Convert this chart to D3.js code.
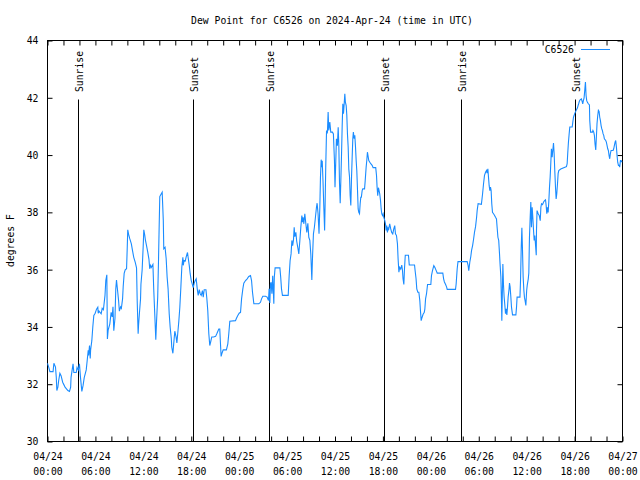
<!DOCTYPE html>
<html>
<head>
<meta charset="utf-8">
<script src="https://cdn.jsdelivr.net/npm/d3@7"></script>
<style>
  html, body { margin: 0; padding: 0; background: #fff; }
  svg { display: block; }
  text { font-family: "DejaVu Sans Mono", "Liberation Mono", monospace; font-size: 9.75px; fill: #000; }
</style>
</head>
<body>
<svg id="chart" width="640" height="480"></svg>
<script>
const title = "Dew Point for C6526 on 2024-Apr-24 (time in UTC)";
const yLabel = "degrees F";
const seriesName = "C6526";
const startUTC = Date.UTC(2024, 3, 24, 0, 0);
const endUTC = Date.UTC(2024, 3, 27, 0, 0);
const yDomain = [30, 44];
const yTickValues = [30, 32, 34, 36, 38, 40, 42, 44];

// sun events: hours after start
const sunEventHours = [3.92, 18.22, 27.84, 42.24, 51.87, 66.16];
const sunEventNames = ["Sunrise", "Sunset", "Sunrise", "Sunset", "Sunrise", "Sunset"];

// hours after 2024-04-24 00:00 UTC
const hours = [
0,0.15,0.3,0.7,0.8,1.0,1.1,1.17,1.3,1.4,1.55,1.7,1.9,2.2,2.55,2.75,2.9,2.95,3.2,3.3,3.6,3.7,3.85,4.0,4.13,4.3,4.45,4.6,4.85,4.97,
5.1,5.15,5.26,5.35,5.4,5.55,5.67,5.8,5.97,6.14,6.3,6.35,6.45,6.72,6.85,7.0,7.2,7.3,7.43,7.5,7.6,7.8,7.97,8.1,8.2,8.3,8.45,8.55,8.64,8.8,
8.9,9.0,9.15,9.25,9.4,9.48,9.6,9.73,9.9,9.98,10.05,10.15,10.3,10.5,10.64,10.8,10.98,11.15,11.23,11.35,11.4,11.52,11.65,11.7,11.85,11.98,12.06,
12.18,12.25,12.4,12.56,12.7,12.8,12.9,13.0,13.2,13.3,13.48,13.56,13.65,13.8,13.9,13.98,14.06,14.2,14.36,14.5,14.56,14.72,14.86,14.98,
15.1,15.24,15.36,15.5,15.56,15.7,15.8,15.94,16.1,16.2,16.35,16.45,16.57,16.7,16.82,16.95,17.0,17.1,17.25,17.35,17.53,17.6,17.75,17.87,
18.0,18.12,18.25,18.37,18.5,18.62,18.75,18.87,19.0,19.12,19.25,19.4,19.5,19.62,19.84,19.95,20.07,20.2,20.32,20.45,20.57,20.8,21.05,21.2,
21.45,21.57,21.66,21.74,21.87,22.0,22.4,22.58,22.7,22.83,23.54,23.66,23.83,24.0,
24.17,24.3,24.46,24.58,24.8,25.0,25.2,25.42,25.55,25.67,25.84,26.46,26.67,26.8,26.96,27.3,27.5,27.67,27.75,27.84,27.92,28.0,28.1,28.2,
28.34,28.4,28.5,29.1,29.2,29.3,29.42,30.14,30.26,30.38,30.5,30.6,30.7,30.8,30.89,30.97,31.1,31.2,31.34,31.47,31.6,31.72,31.85,31.92,
32.0,32.1,32.22,32.35,32.47,32.6,32.72,32.85,32.97,33.1,33.17,33.3,33.42,33.55,33.68,33.76,33.88,34.0,34.1,34.18,34.27,34.33,34.4,34.5,
34.6,34.7,34.77,34.84,34.94,35.05,35.14,35.22,35.35,35.47,35.68,35.8,35.93,36.0,
36.18,36.3,36.4,36.48,36.56,36.65,36.73,36.81,36.9,36.98,37.06,37.15,37.23,37.3,37.4,37.48,37.56,37.65,37.73,37.82,37.9,37.98,38.07,
38.15,38.23,38.3,38.4,38.48,38.57,38.65,38.73,38.82,38.9,38.98,39.07,39.15,39.23,39.3,39.4,39.48,39.7,39.78,39.9,39.98,40.06,40.15,
40.23,40.36,40.48,40.65,40.77,41.1,41.2,41.27,41.35,41.44,41.52,41.6,41.7,41.78,41.86,41.95,42.03,42.1,42.23,42.32,42.4,42.48,42.56,
42.65,42.73,42.85,42.98,43.1,43.23,43.36,43.48,43.57,43.7,43.82,43.9,44.0,44.1,44.23,44.36,44.45,44.52,44.62,44.7,44.8,45.2,45.3,45.96,
46.03,46.15,46.24,46.37,46.5,46.62,46.7,46.79,46.9,47.04,47.17,47.25,47.34,47.46,47.59,48.0,
48.08,48.2,48.37,48.5,48.62,48.8,49.5,49.6,49.7,49.85,49.98,50.05,51.09,51.17,51.3,51.4,52.55,52.67,52.75,52.88,53.0,53.1,53.23,53.36,
53.47,53.6,53.73,53.8,53.92,54.33,54.48,54.6,54.72,54.85,54.97,55.05,55.14,55.22,55.3,55.39,55.47,55.55,55.63,55.72,55.85,55.97,56.1,
56.22,56.3,56.4,56.5,56.6,56.68,56.77,56.85,56.89,56.96,57.02,57.1,57.18,57.27,57.35,57.43,57.52,57.6,57.68,57.8,57.85,57.93,58.02,
58.1,58.23,58.65,58.73,58.8,59.16,59.23,59.32,59.4,59.48,59.56,59.65,59.72,59.8,59.9,
60.0,60.07,60.2,60.27,60.35,60.44,60.52,60.6,60.69,60.77,60.85,60.94,61.02,61.1,61.2,61.23,61.3,61.44,61.57,61.7,61.78,61.86,61.99,
62.12,62.24,62.36,62.44,62.52,62.6,62.69,62.77,62.86,62.94,63.0,63.1,63.19,63.27,63.36,63.44,63.52,63.61,63.69,63.77,63.86,63.94,64.02,
64.27,64.86,64.98,65.07,65.15,65.23,65.32,65.4,65.7,65.78,65.86,65.94,66.0,66.2,66.27,66.36,66.44,66.52,66.6,66.69,66.85,66.94,67.02,
67.1,67.19,67.27,67.36,67.44,67.52,67.61,67.7,67.86,67.9,68.0,68.23,68.3,68.4,68.48,68.56,68.65,68.73,68.81,68.9,68.98,69.07,69.15,
69.23,69.32,69.4,69.48,69.57,69.65,69.73,69.9,69.98,70.07,70.15,70.23,70.32,70.4,70.48,70.57,70.82,70.9,70.98,71.07,71.15,71.24,71.32,
71.4,71.49,71.57,71.65,71.74,71.82,71.95
];

// dew point, degrees F
const dewpoint = [
32.73,32.6,32.44,32.44,32.73,32.6,32.24,31.78,31.9,32.13,32.38,32.3,32.07,31.9,31.78,31.75,31.9,32.24,32.71,32.41,32.41,32.59,32.5,32.71,32.24,31.75,31.95,32.23,32.5,32.83,
33.18,33.0,33.35,32.9,33.2,33.52,33.99,34.4,34.48,34.62,34.69,34.48,34.55,34.46,34.65,34.6,35.1,35.62,35.82,33.58,33.9,34.1,34.51,34.35,34.7,33.87,34.3,35.33,35.64,35.2,
34.92,34.55,34.7,34.65,34.98,35.41,35.87,35.99,36.03,36.72,37.39,37.24,37.08,36.9,36.67,36.43,36.26,36.06,34.92,33.76,34.05,34.51,34.98,35.49,35.99,36.8,37.39,
37.2,37.05,36.84,36.6,36.37,36.03,36.15,36.08,36.18,35.33,34.11,33.55,34.17,35.04,36.32,37.48,38.55,38.62,38.7,37.72,36.73,36.78,36.38,35.74,
35.33,34.46,33.99,33.6,33.29,33.08,33.4,33.85,33.65,33.44,33.9,34.22,34.69,35.39,36.09,36.43,36.15,36.32,36.3,36.43,36.6,36.45,36.15,35.85,
35.62,35.5,35.37,35.53,35.62,35.68,35.33,35.1,35.3,35.16,35.1,35.27,35.04,35.3,35.3,35.0,34.57,33.76,33.35,33.5,33.65,33.65,33.67,33.76,
33.93,33.93,33.41,32.97,33.1,33.2,33.2,33.41,33.76,34.2,34.22,34.3,34.4,34.48,
34.51,34.98,35.33,35.53,35.62,35.68,35.76,35.79,35.62,35.21,34.81,34.81,34.86,34.98,35.07,35.07,35.04,34.92,35.33,34.84,35.5,35.56,35.16,35.79,
34.81,35.74,36.06,36.06,35.74,35.33,35.1,35.1,35.79,36.32,36.55,37.02,36.84,37.04,37.48,37.15,37.3,37.0,36.78,36.55,37.02,37.48,37.89,37.66,
37.83,37.6,37.95,37.6,37.3,37.62,37.13,37.02,36.55,35.64,36.32,37.25,37.48,37.83,38.18,38.32,37.95,37.25,38.18,39.23,39.84,39.58,39.8,39.07,
38.18,37.37,38.4,39.58,40.86,40.8,41.5,40.86,41.15,40.8,40.8,40.74,39.81,38.88,
40.57,40.33,40.97,40.33,39.05,38.32,39.1,39.93,41.03,41.79,41.44,41.79,42.14,41.85,41.73,41.38,40.74,40.27,39.51,39.23,38.58,38.24,39.23,
39.93,40.57,40.8,40.57,40.69,40.27,39.81,39.46,38.76,38.12,38.0,37.95,38.3,38.53,38.53,38.76,38.82,38.82,39.1,39.58,39.81,40.1,39.95,
39.81,39.75,39.7,39.64,39.56,39.56,39.28,38.88,38.58,38.86,38.76,38.65,38.41,38.12,37.95,37.89,37.95,37.83,37.72,37.6,37.37,37.54,37.3,
37.48,37.42,37.6,37.42,37.3,37.25,37.42,37.54,37.25,37.19,36.9,36.38,35.91,36.08,36.02,36.16,35.97,35.68,35.48,36.02,36.5,36.5,36.16,36.16,
35.97,35.68,35.33,35.21,35.21,34.92,34.57,34.22,34.33,34.45,34.5,34.62,34.98,35.16,35.48,35.48,
35.79,35.96,36.14,36.08,36.0,35.88,35.88,35.68,35.57,35.48,35.39,35.31,35.31,35.5,36.03,36.28,36.28,36.14,35.96,36.26,36.45,36.67,36.84,37.08,
37.31,37.5,37.83,38.06,38.3,38.28,38.65,39.0,39.29,39.4,39.46,39.37,39.52,39.23,38.94,38.76,38.88,38.76,38.3,38.0,37.95,37.9,37.83,
37.77,37.48,37.13,37.02,36.55,36.14,35.74,34.81,34.22,35.27,36.2,35.45,35.04,34.75,34.46,34.63,34.42,34.69,35.04,35.33,35.53,35.39,35.04,
34.69,34.42,34.42,34.69,35.04,35.04,35.62,36.78,37.46,36.67,35.74,35.27,35.04,34.92,34.75,
35.27,35.45,35.68,35.88,37.13,37.83,38.36,37.48,38.18,37.83,37.42,37.02,37.19,36.9,36.5,37.37,38.06,37.95,37.89,37.71,38.18,38.3,38.27,
38.36,38.41,38.44,38.24,37.95,38.18,38.0,38.36,38.88,39.23,39.58,40.22,39.93,40.16,40.42,40.05,39.46,38.88,38.47,38.65,39.0,39.35,39.46,
39.51,39.58,39.6,39.7,40.1,40.45,40.74,40.98,40.98,41.15,41.32,41.38,41.44,41.56,41.6,41.65,41.73,41.8,41.88,41.93,41.96,41.88,41.79,
41.9,42.0,42.25,42.55,42.08,41.9,41.84,41.8,41.75,41.21,40.8,40.8,40.86,40.8,40.69,40.39,40.18,40.63,41.1,41.38,41.56,41.52,41.32,
41.21,41.03,40.92,40.86,40.74,40.69,40.57,40.51,40.45,40.33,40.22,40.16,39.98,39.87,40.05,40.16,40.16,40.22,40.33,40.45,40.51,40.27,39.98,
39.75,39.64,39.64,39.58,39.81,39.81,39.75
];

const W = 640, H = 480;
const margin = { left: 47, right: 18, top: 40, bottom: 39 };
const pL = margin.left, pR = W - margin.right, pT = margin.top, pB = H - margin.bottom;
const lineColor = "#1a8cff";

const svg = d3.select("#chart");
const g = svg.append("g").attr("transform", "translate(0.5,0.5)");

const x = d3.scaleUtc().domain([new Date(startUTC), new Date(endUTC)]).range([pL, pR]);
const y = d3.scaleLinear().domain(yDomain).range([pB, pT]);

const toDate = h => new Date(startUTC + h * 3600000);
const data = hours.map((h, i) => ({ t: toDate(h), v: dewpoint[i] }));

const fmtDate = d3.utcFormat("%m/%d");
const fmtTime = d3.utcFormat("%H:%M");

const xb = g.append("g").attr("transform", `translate(0,${pB})`)
  .call(d3.axisBottom(x).ticks(d3.utcHour.every(2)).tickSizeInner(-5).tickSizeOuter(0).tickPadding(0).tickFormat(() => ""));
xb.select(".domain").remove();
xb.selectAll("line").attr("stroke", "#000");
xb.selectAll(".tick").filter(d => d.getUTCHours() % 6 === 0).each(function(d) {
  const t = d3.select(this).select("text").attr("y", 0).attr("dy", null).attr("fill", "#000");
  t.append("tspan").attr("x", 0).attr("y", 18).text(fmtDate(d));
  t.append("tspan").attr("x", 0).attr("y", 33).text(fmtTime(d));
});

const xt = g.append("g").attr("transform", `translate(0,${pT})`)
  .call(d3.axisTop(x).ticks(d3.utcHour.every(2)).tickSizeInner(-5).tickSizeOuter(0).tickFormat(() => ""));
xt.select(".domain").remove();
xt.selectAll("line").attr("stroke", "#000");

const yl = g.append("g").attr("transform", `translate(${pL},0)`)
  .call(d3.axisLeft(y).tickValues(yTickValues).tickSizeInner(-5).tickSizeOuter(0).tickPadding(9).tickFormat(d3.format("d")));
yl.select(".domain").remove();
yl.selectAll("line").attr("stroke", "#000");
yl.selectAll("text").attr("fill", "#000").attr("dy", "0.35em");

const yr = g.append("g").attr("transform", `translate(${pR},0)`)
  .call(d3.axisRight(y).tickValues(yTickValues).tickSizeInner(-5).tickSizeOuter(0).tickFormat(() => ""));
yr.select(".domain").remove();
yr.selectAll("line").attr("stroke", "#000");

g.selectAll("g").attr("font-family", null).attr("font-size", null);

g.append("rect").attr("x", pL).attr("y", pT).attr("width", pR - pL).attr("height", pB - pT)
  .attr("fill", "none").attr("stroke", "#000").attr("stroke-width", 1);

sunEventHours.forEach((h, i) => {
  const px = Math.round(x(toDate(h)));
  g.append("line").attr("x1", px).attr("x2", px).attr("y1", pT + 59).attr("y2", pB)
    .attr("stroke", "#000").attr("stroke-width", 1);
  svg.append("text").attr("transform", `translate(${px + 4.5},92) rotate(-90)`)
    .attr("text-anchor", "start").text(sunEventNames[i]);
});

g.append("path").datum(data)
  .attr("fill", "none").attr("stroke", lineColor).attr("stroke-width", 1.1)
  .attr("d", d3.line().x(d => x(d.t)).y(d => y(d.v)));

svg.append("text").attr("x", 332).attr("y", 23.5).attr("text-anchor", "middle").text(title);

svg.append("text").attr("transform", `translate(13.5,${(pT + pB) / 2}) rotate(-90)`)
  .attr("text-anchor", "middle").text(yLabel);

svg.append("text").attr("x", 574).attr("y", 52.5).attr("text-anchor", "end").text(seriesName);
svg.append("line").attr("x1", 581).attr("x2", 610).attr("y1", 49.5).attr("y2", 49.5)
  .attr("stroke", lineColor).attr("stroke-width", 1);
</script>
</body>
</html>
